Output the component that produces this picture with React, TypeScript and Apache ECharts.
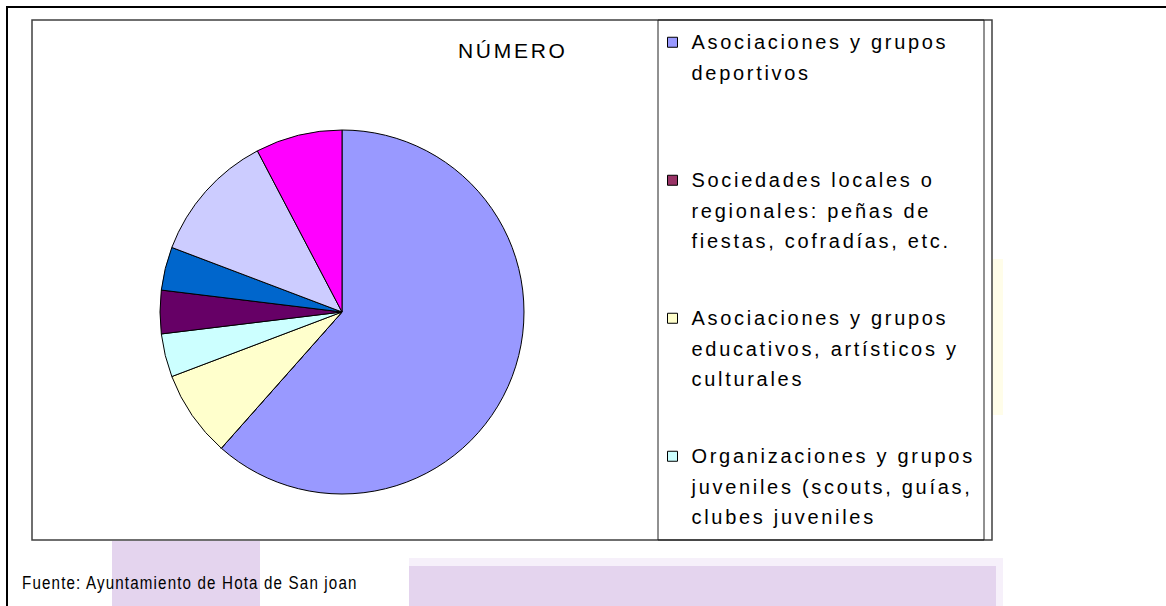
import React, { useEffect, useRef } from 'react';
import * as echarts from 'echarts';

// ---- data ----
const categories = [
  'Asociaciones y grupos deportivos',
  'Sociedades locales o regionales: peñas de fiestas, cofradías, etc.',
  'Asociaciones y grupos educativos, artísticos y culturales',
  'Organizaciones y grupos juveniles (scouts, guías, clubes juveniles',
  'Categoría 5',
  'Categoría 6',
  'Categoría 7',
  'Categoría 8',
];
const values = [16, 0, 2, 1, 1, 1, 3, 2];
const sliceColors = ['#9999FF', '#993366', '#FFFFCC', '#CCFFFF', '#660066', '#0066CC', '#CCCCFF', '#FF00FF'];
const legendCount = 4;
const legendLines = [
  ['Asociaciones y grupos', 'deportivos', ''],
  ['Sociedades locales o', 'regionales: peñas de', 'fiestas, cofradías, etc.'],
  ['Asociaciones y grupos', 'educativos, artísticos y', 'culturales'],
  ['Organizaciones y grupos', 'juveniles (scouts, guías,', 'clubes juveniles'],
];
const chartTitle = 'NÚMERO';
const sourceText = 'Fuente: Ayuntamiento de Hota de San joan';

const FONT = '"Liberation Sans", Arial, sans-serif';
const NARROW = '"Liberation Sans", "Arial Narrow", sans-serif';

export default function App() {
  const ref = useRef<HTMLDivElement>(null);
  useEffect(() => {
    if (!ref.current) return;
    const chart = echarts.init(ref.current, null, { renderer: 'svg' });
    const lineH = 30.5;
    chart.setOption({
      animation: false,
      backgroundColor: '#ffffff',
      graphic: [
        { type: 'rect', shape: { x: 7, y: 7, width: 1300, height: 800 }, style: { fill: 'none', stroke: '#000', lineWidth: 2 } },
        { type: 'rect', shape: { x: 112, y: 541, width: 148, height: 70 }, style: { fill: '#E4D4EE' } },
        { type: 'rect', shape: { x: 409, y: 558, width: 594, height: 8 }, style: { fill: '#F6F0FA' } },
        { type: 'rect', shape: { x: 409, y: 566, width: 587, height: 45 }, style: { fill: '#E4D4EE' } },
        { type: 'rect', shape: { x: 996, y: 566, width: 7, height: 45 }, style: { fill: '#F6F0FA' } },
        { type: 'rect', shape: { x: 992, y: 259, width: 11, height: 156 }, style: { fill: '#FFFDE9' } },
        { type: 'rect', shape: { x: 32, y: 20, width: 960, height: 520 }, style: { fill: '#fff', stroke: '#404040', lineWidth: 1.5 } },
        { type: 'rect', shape: { x: 658, y: 20, width: 326, height: 520 }, style: { fill: 'none', stroke: '#222', lineWidth: 1 } },
        { type: 'text', x: 458, y: 50, style: { text: chartTitle, fontSize: 21, fontFamily: FONT, fill: '#000', verticalAlign: 'middle', textVerticalAlign: 'middle' } },
        { type: 'text', x: 22, y: 583, scaleX: 0.82, style: { text: sourceText, fontSize: 18.5, fontFamily: NARROW, fill: '#000', verticalAlign: 'middle', textVerticalAlign: 'middle' } },
      ],
      legend: {
        orient: 'vertical',
        left: 667,
        top: -34,
        padding: 0,
        itemGap: -14.5,
        itemWidth: 10,
        itemHeight: 10,
        icon: 'rect',
        selectedMode: false,
        itemStyle: { borderColor: '#000', borderWidth: 1 },
        data: categories.slice(0, legendCount),
        formatter: (name: string) => ['', ''].concat(legendLines[categories.indexOf(name)]).join('\n'),
        textStyle: {
          fontFamily: FONT,
          fontSize: 20,
          color: '#000',
          lineHeight: lineH,
          padding: [0, 0, 0, 9],
        },
      },
      series: [
        {
          type: 'pie',
          center: [342, 312],
          radius: 182,
          startAngle: 90,
          clockwise: true,
          label: { show: false },
          labelLine: { show: false },
          emphasis: { disabled: true },
          itemStyle: { borderColor: '#000', borderWidth: 1 },
          data: categories.map((name, i) => ({ name, value: values[i], itemStyle: { color: sliceColors[i] } })),
        },
      ],
    });
    return () => chart.dispose();
  }, []);
  return (
    <>
      <style>{`#chart-root text{letter-spacing:2.7px}#chart-root text[style*="Narrow"]{letter-spacing:1.4px}`}</style>
      <div id="chart-root" ref={ref} style={{ position: 'absolute', left: 0, top: 0, width: 1166, height: 606 }} />
    </>
  );
}
